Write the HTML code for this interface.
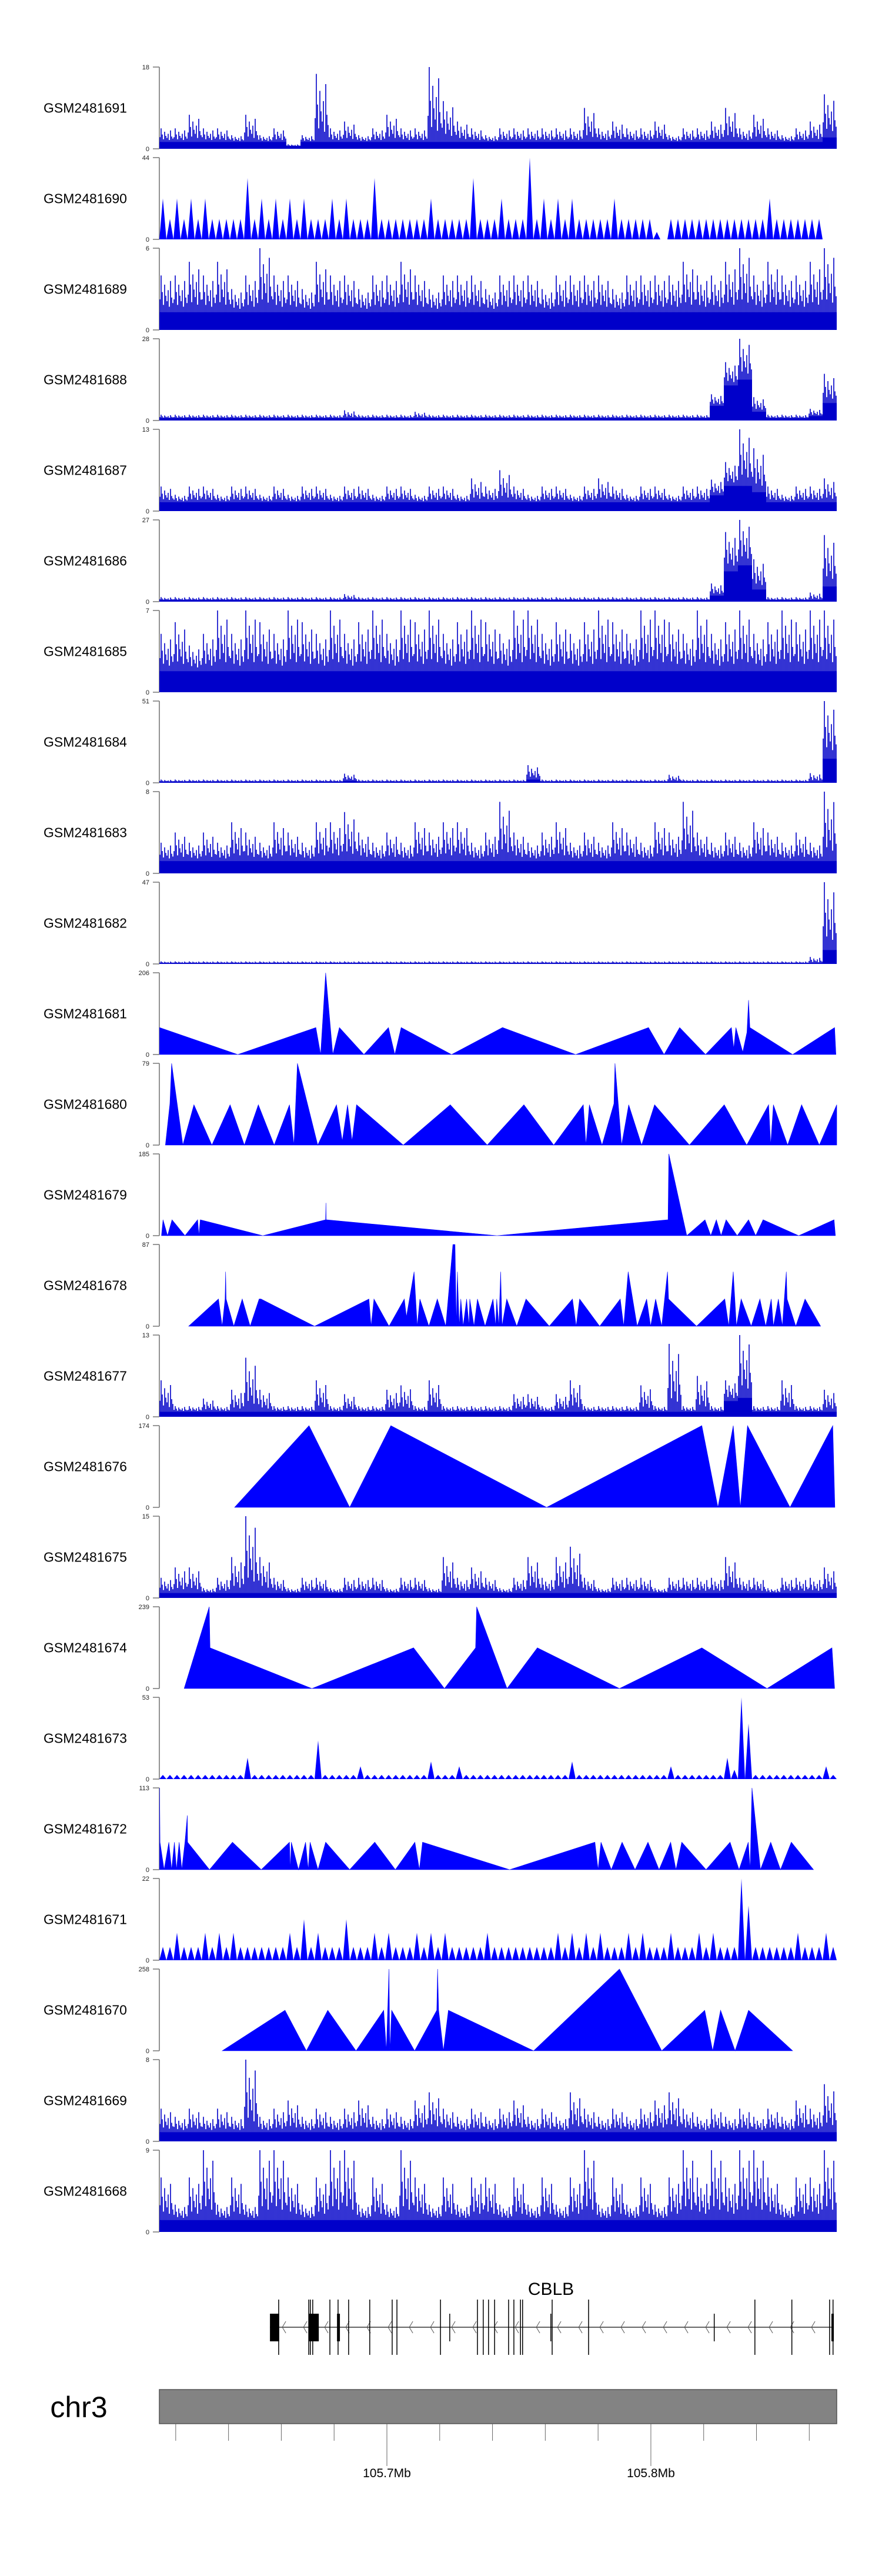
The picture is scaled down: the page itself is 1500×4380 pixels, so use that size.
<!DOCTYPE html>
<html><head><meta charset="utf-8"><title>CBLB coverage tracks</title>
<style>
html,body{margin:0;padding:0;background:#fff;}
svg{display:block;font-family:"Liberation Sans",Arial,sans-serif;}
</style></head>
<body>
<svg id="chart" xmlns="http://www.w3.org/2000/svg" width="1500" height="4380" viewBox="0 0 1500 4380"></svg>
<script>
// ---------- data ----------
const sampleNames=["GSM2481691","GSM2481690","GSM2481689","GSM2481688","GSM2481687","GSM2481686","GSM2481685","GSM2481684","GSM2481683","GSM2481682","GSM2481681","GSM2481680","GSM2481679","GSM2481678","GSM2481677","GSM2481676","GSM2481675","GSM2481674","GSM2481673","GSM2481672","GSM2481671","GSM2481670","GSM2481669","GSM2481668"];
const yMax=[18,44,6,28,13,27,7,51,8,47,206,79,185,87,13,174,15,239,53,113,22,258,8,9];
// genomic window, kb offset from chr3:105,600,000
const domainKb=[13.8,270.4];

// dense tracks: 48 bins each (peak value, filled mass value)
const peak1691=[4.5,4.5,7.5,4.5,4.5,3,7.5,3,4.5,1,3,16.5,4.5,6,3,4.5,7.5,4.5,4.5,18,10.5,6,4.5,3,4.5,4.5,4.5,4.5,4.5,4.5,9,4.5,6,4.5,4.5,6,3,4.5,4.5,6,9,4.5,7.5,4.5,3,4.5,6,12];
const fill1691=[1.5,1.5,1.5,1.5,1.5,1.5,1.5,1.5,1.5,0.6,1.5,1.5,1.5,1.5,1.5,1.5,1.5,1.5,1.5,1.5,1.5,1.5,1.5,1.5,1.5,1.5,1.5,1.5,1.5,1.5,1.5,1.5,1.5,1.5,1.5,1.5,1.5,1.5,1.5,1.5,1.5,1.5,1.5,1.5,1.5,1.5,1.5,2.5];
const peak1690=[22,22,22,22,11,11,33,22,22,22,22,11,22,22,11,33,11,11,11,22,11,11,33,11,22,11,44,22,22,22,11,11,22,11,11,4,11,11,11,11,11,11,11,22,11,11,11,0];
const fill1690=[11,11,11,11,11,11,11,11,11,11,11,11,11,11,11,11,11,11,11,11,11,11,11,11,11,11,11,11,11,11,11,11,11,11,11,0,11,11,11,11,11,11,11,11,11,11,11,0];
const peak1689=[4,4,5,4,5,3,4,6,4,4,3,5,4,4,3,4,4,5,4,3,4,4,4,3,4,4,4,3,4,4,4,4,3,4,4,4,4,5,4,4,5,6,4,5,4,4,5,6];
const fill1689=[1.3,1.3,1.3,1.3,1.3,1.3,1.3,1.3,1.3,1.3,1.3,1.3,1.3,1.3,1.3,1.3,1.3,1.3,1.3,1.3,1.3,1.3,1.3,1.3,1.3,1.3,1.3,1.3,1.3,1.3,1.3,1.3,1.3,1.3,1.3,1.3,1.3,1.3,1.3,1.3,1.3,1.3,1.3,1.3,1.3,1.3,1.3,1.3];
const peak1688=[2,2,2,2,2,2,2,2,2,2,2,2,2,3.5,2,2,2,2,3,2,2,2,2,2,2,2,2,2,2,2,2,2,2,2,2,2,2,2,2,9,20,28,8,2,2,2,4,16];
const fill1688=[0.8,0.8,0.8,0.8,0.8,0.8,0.8,0.8,0.8,0.8,0.8,0.8,0.8,0.8,0.8,0.8,0.8,0.8,0.8,0.8,0.8,0.8,0.8,0.8,0.8,0.8,0.8,0.8,0.8,0.8,0.8,0.8,0.8,0.8,0.8,0.8,0.8,0.8,0.8,5,12,14,3,0.8,0.8,0.8,1.5,6];
const peak1687=[3.9,2.6,3.9,3.9,2.6,3.9,3.9,2.6,3.9,2.6,3.9,3.9,2.6,3.9,3.9,2.6,3.9,3.9,2.6,3.9,3.9,2.6,5.2,3.9,6.5,3.9,2.6,3.9,3.9,2.6,3.9,5.2,3.9,2.6,3.9,3.9,2.6,3.9,3.9,5,7.8,13,10,3.9,2.6,3.9,3.9,5.2];
const fill1687=[1.4,1.4,1.4,1.4,1.4,1.4,1.4,1.4,1.4,1.4,1.4,1.4,1.4,1.4,1.4,1.4,1.4,1.4,1.4,1.4,1.4,1.4,1.4,1.4,1.4,1.4,1.4,1.4,1.4,1.4,1.4,1.4,1.4,1.4,1.4,1.4,1.4,1.4,1.4,2.5,4,4,3,1.4,1.4,1.4,1.4,1.4];
const peak1686=[1.5,1.5,1.5,1.5,1.5,1.5,1.5,1.5,1.5,1.5,1.5,1.5,1.5,2.5,1.5,1.5,1.5,1.5,1.5,1.5,1.5,1.5,1.5,1.5,1.5,1.5,1.5,1.5,1.5,1.5,1.5,1.5,1.5,1.5,1.5,1.5,1.5,1.5,1.5,6,23,27,14,1.5,1.5,1.5,3,22];
const fill1686=[0.5,0.5,0.5,0.5,0.5,0.5,0.5,0.5,0.5,0.5,0.5,0.5,0.5,0.5,0.5,0.5,0.5,0.5,0.5,0.5,0.5,0.5,0.5,0.5,0.5,0.5,0.5,0.5,0.5,0.5,0.5,0.5,0.5,0.5,0.5,0.5,0.5,0.5,0.5,2,10,12,4,0.5,0.5,0.5,0.5,5];
const peak1685=[5,6,4,5,7,5,7,6,5,7,6,5,7,5,6,7,5,7,6,7,5,6,7,6,5,7,7,5,6,5,6,7,6,5,7,7,6,5,7,5,6,7,5,6,7,6,7,7];
const fill1685=[1.8,1.8,1.8,1.8,1.8,1.8,1.8,1.8,1.8,1.8,1.8,1.8,1.8,1.8,1.8,1.8,1.8,1.8,1.8,1.8,1.8,1.8,1.8,1.8,1.8,1.8,1.8,1.8,1.8,1.8,1.8,1.8,1.8,1.8,1.8,1.8,1.8,1.8,1.8,1.8,1.8,1.8,1.8,1.8,1.8,1.8,1.8,1.8];
const peak1684=[2,2,2,2,2,2,2,2,2,2,2,2,2,5.7,2,2,2,2,2,2,2,2,2,2,2,2,11,2,2,2,2,2,2,2,2,2,5,2,2,2,2,2,2,2,2,2,6,51];
const fill1684=[0.7,0.7,0.7,0.7,0.7,0.7,0.7,0.7,0.7,0.7,0.7,0.7,0.7,1.2,0.7,0.7,0.7,0.7,0.7,0.7,0.7,0.7,0.7,0.7,0.7,0.7,2,0.7,0.7,0.7,0.7,0.7,0.7,0.7,0.7,0.7,0.7,0.7,0.7,0.7,0.7,0.7,0.7,0.7,0.7,0.7,0.7,15];
const peak1683=[3,4,3,4,3,5,4,3,5,4,3,5,5,6,4,3,4,3,5,4,5,5,3,4,7,4,3,4,5,3,4,3,5,4,3,5,4,7,4,3,4,3,5,4,3,4,3,8];
const fill1683=[1.2,1.2,1.2,1.2,1.2,1.2,1.2,1.2,1.2,1.2,1.2,1.2,1.2,1.2,1.2,1.2,1.2,1.2,1.2,1.2,1.2,1.2,1.2,1.2,1.2,1.2,1.2,1.2,1.2,1.2,1.2,1.2,1.2,1.2,1.2,1.2,1.2,1.2,1.2,1.2,1.2,1.2,1.2,1.2,1.2,1.2,1.2,1.2];
const peak1682=[1.5,1.5,1.5,1.5,1.5,1.5,1.5,1.5,1.5,1.5,1.5,1.5,1.5,1.5,1.5,1.5,1.5,1.5,1.5,1.5,1.5,1.5,1.5,1.5,1.5,1.5,1.5,1.5,1.5,1.5,1.5,1.5,1.5,1.5,1.5,1.5,1.5,1.5,1.5,1.5,1.5,1.5,1.5,1.5,1.5,1.5,4,47];
const fill1682=[0.5,0.5,0.5,0.5,0.5,0.5,0.5,0.5,0.5,0.5,0.5,0.5,0.5,0.5,0.5,0.5,0.5,0.5,0.5,0.5,0.5,0.5,0.5,0.5,0.5,0.5,0.5,0.5,0.5,0.5,0.5,0.5,0.5,0.5,0.5,0.5,0.5,0.5,0.5,0.5,0.5,0.5,0.5,0.5,0.5,0.5,0.5,8];
const peak1677=[5.8,1.7,1.7,2.9,1.7,4.3,9.4,4.3,1.7,1.7,1.7,5.8,1.7,3.6,1.7,1.7,4.3,5,1.7,5.8,1.7,1.7,1.7,1.7,1.7,3.6,3.6,1.7,3.6,5.8,1.7,1.7,1.7,1.7,5,1.7,11.6,1.7,6.5,1.7,5.8,13,1.7,1.7,5.8,1.7,1.7,4.3];
const fill1677=[0.8,0.8,0.8,0.8,0.8,0.8,0.8,0.8,0.8,0.8,0.8,0.8,0.8,0.8,0.8,0.8,0.8,0.8,0.8,0.8,0.8,0.8,0.8,0.8,0.8,0.8,0.8,0.8,0.8,0.8,0.8,0.8,0.8,0.8,0.8,0.8,0.8,0.8,0.8,0.8,2.5,3,0.8,0.8,0.8,0.8,0.8,0.8];
const peak1675=[3.7,5.6,5.6,1.8,3.7,7.5,15,7.5,3.7,1.8,3.7,3.7,1.8,3.7,3.7,3.7,1.8,3.7,3.7,1.8,7.5,3.7,5.6,3.7,1.8,3.7,7.5,3.7,7.5,9.4,3.7,1.8,3.7,3.7,3.7,1.8,3.7,3.7,3.7,3.7,7.5,3.7,3.7,1.8,3.7,3.7,3.7,5.6];
const fill1675=[0.9,0.9,0.9,0.9,0.9,0.9,0.9,0.9,0.9,0.9,0.9,0.9,0.9,0.9,0.9,0.9,0.9,0.9,0.9,0.9,0.9,0.9,0.9,0.9,0.9,0.9,0.9,0.9,0.9,0.9,0.9,0.9,0.9,0.9,0.9,0.9,0.9,0.9,0.9,0.9,0.9,0.9,0.9,0.9,0.9,0.9,0.9,0.9];
const peak1673=[2.7,2.7,2.7,2.7,2.7,2.7,13.8,2.7,2.7,2.7,2.7,25,2.7,2.7,8.3,2.7,2.7,2.7,2.7,11.4,2.7,8.3,2.7,2.7,2.7,2.7,2.7,2.7,2.7,11.4,2.7,2.7,2.7,2.7,2.7,2.7,8.3,2.7,2.7,2.7,13.8,53,2.7,2.7,2.7,2.7,2.7,8.3];
const fill1673=[2.7,2.7,2.7,2.7,2.7,2.7,2.7,2.7,2.7,2.7,2.7,2.7,2.7,2.7,2.7,2.7,2.7,2.7,2.7,2.7,2.7,2.7,2.7,2.7,2.7,2.7,2.7,2.7,2.7,2.7,2.7,2.7,2.7,2.7,2.7,2.7,2.7,2.7,2.7,2.7,6,36,2.7,2.7,2.7,2.7,2.7,2.7];
const peak1671=[3.6,7.4,3.6,7.4,7.4,7.4,3.6,3.6,3.6,7.4,11,7.4,3.6,11,3.6,7.4,7.4,3.6,7.4,7.4,7.4,3.6,3.6,7.4,3.6,3.6,3.6,3.6,7.4,7.4,7.4,7.4,3.6,7.4,7.4,3.6,7.4,3.6,7.4,7.4,3.6,22,3.6,3.6,3.6,7.4,3.6,7.4];
const fill1671=[3.6,3.6,3.6,3.6,3.6,3.6,3.6,3.6,3.6,3.6,3.6,3.6,3.6,3.6,3.6,3.6,3.6,3.6,3.6,3.6,3.6,3.6,3.6,3.6,3.6,3.6,3.6,3.6,3.6,3.6,3.6,3.6,3.6,3.6,3.6,3.6,3.6,3.6,3.6,3.6,3.6,14.7,3.6,3.6,3.6,3.6,3.6,3.6];
const peak1669=[3.2,2.4,3.2,2.4,3.2,2.4,8,2.4,3.2,4,2.4,3.2,2.4,3.2,4,2.4,3.2,2.4,4,4.8,3.2,2.4,3.2,2.4,3.2,4,2.4,3.2,2.4,4.8,3.2,2.4,3.2,2.4,3.2,4,4.8,3.2,2.4,3.2,2.4,3.2,2.4,3.2,2.4,4,3.2,5.6];
const fill1669=[0.9,0.9,0.9,0.9,0.9,0.9,0.9,0.9,0.9,0.9,0.9,0.9,0.9,0.9,0.9,0.9,0.9,0.9,0.9,0.9,0.9,0.9,0.9,0.9,0.9,0.9,0.9,0.9,0.9,0.9,0.9,0.9,0.9,0.9,0.9,0.9,0.9,0.9,0.9,0.9,0.9,0.9,0.9,0.9,0.9,0.9,0.9,0.9];
const peak1668=[6,3,6,9,3,6,3,9,9,6,3,6,9,9,3,6,3,9,6,3,6,3,6,6,3,6,3,6,3,6,9,3,6,3,6,3,6,9,6,9,6,9,9,6,3,6,6,9];
const fill1668=[1.3,1.3,1.3,1.3,1.3,1.3,1.3,1.3,1.3,1.3,1.3,1.3,1.3,1.3,1.3,1.3,1.3,1.3,1.3,1.3,1.3,1.3,1.3,1.3,1.3,1.3,1.3,1.3,1.3,1.3,1.3,1.3,1.3,1.3,1.3,1.3,1.3,1.3,1.3,1.3,1.3,1.3,1.3,1.3,1.3,1.3,1.3,1.3];

// sparse polygon tracks: positions (kb offset) and values
const pos1681=[13.9,43.5,73.1,74.9,76.8,79.5,82.0,91.3,100.6,103.0,105.4,124.5,143.8,171.5,199.1,205.0,210.9,220.7,230.5,231.4,232.2,234.8,236.4,237.0,237.5,253.7,269.6,270.1];
const val1681=[68,0,68,0,206,0,68,0,68,0,68,0,68,0,68,0,68,0,68,15,68,6,56,137,68,0,68,0];
const pos1680=[16.1,17.8,18.45,22.7,26.9,33.7,40.6,46.0,51.3,57.3,63.1,64.8,66.1,73.8,80.9,83.1,85.1,86.8,88.5,106.2,124.0,138.0,151.9,163.2,174.4,175.4,176.7,181.5,186.0,186.4,188.9,191.6,196.5,201.4,214.6,227.8,236.3,244.6,245.4,246.4,251.8,257.1,263.8,270.4];
const val1680=[0,40,79,0,39,0,39,0,39,0,39,0,79,0,39,4,39,4,39,0,39,0,39,0,39,0,39,0,40,79,0,39,0,39,0,39,0,39,0,39,0,39,0,39];
const pos1679=[14.6,15.2,16.9,18.6,23.5,28.3,28.8,29.3,53.0,76.8,76.9,77.0,141.7,206.5,206.8,213.6,220.5,222.7,224.8,226.6,228.5,232.7,237.0,239.7,242.5,256.0,269.4,269.9];
const val1679=[0,36,0,36,0,36,0,36,0,36,74,36,0,36,185,0,36,0,36,0,36,0,36,0,36,0,36,0];
const pos1678=[24.9,36.2,37.6,38.7,38.9,39.1,42.0,45.2,48.2,51.6,52.3,72.6,93.2,94.0,95.1,100.8,106.6,107.4,110.3,111.5,112.5,115.9,119.1,122.3,125.0,125.8,126.3,126.7,127.4,128.0,128.9,130.2,131.1,131.4,133.0,134.3,137.2,140.2,141.2,141.6,142.4,143.1,143.6,145.4,149.2,152.7,161.5,170.3,171.7,173.0,180.6,188.4,189.7,191.4,194.8,198.4,199.9,201.8,204.1,206.3,206.7,217.3,228.0,229.5,231.2,232.4,234.2,238.0,241.3,243.5,245.6,246.4,248.3,249.8,251.3,251.6,254.9,258.4,264.3];
const val1678=[0,29,0,29,58,29,0,29,0,29,29,0,29,0,29,0,29,10,58,0,29,0,29,0,87,87,0,58,0,29,0,29,0,29,0,29,0,29,0,29,0,58,0,29,0,29,0,29,0,29,0,29,0,58,0,29,0,29,0,58,29,0,29,0,58,0,29,0,29,0,29,0,29,0,58,29,0,29,0];
const pos1676=[42.3,70.5,85.9,101.5,160.5,219.3,225.4,231.2,233.9,236.6,252.7,268.9,269.7];
const val1676=[0,174,0,174,0,174,0,174,0,174,0,174,0];
const pos1674=[23.2,32.7,33.0,71.6,110.1,121.8,133.6,134.0,145.5,157.0,188.1,219.3,244.0,268.6,269.6];
const val1674=[0,239,119,0,119,0,119,239,0,119,0,119,0,119,0];
const pos1672=[13.9,14.05,15.6,17.4,18.45,19.5,20.3,21.3,22.3,23.5,24.4,24.5,32.8,41.5,52.4,63.1,63.4,63.8,66.5,69.2,70.2,70.9,73.9,76.8,85.9,95.4,103.2,110.6,112.3,113.5,146.5,178.8,180.0,181.1,185.0,189.1,194.0,198.9,203.1,207.5,209.5,211.7,220.9,230.0,233.4,236.9,237.6,238.3,241.5,245.4,249.1,253.2,261.6];
const val1672=[113,38,0,38,0,38,0,38,0,38,75,38,0,38,0,38,0,38,0,38,0,38,0,38,0,38,0,38,0,38,0,38,0,38,0,38,0,38,0,38,0,38,0,38,0,38,0,113,0,38,0,38,0];
const pos1670=[37.6,61.4,69.5,77.6,88.3,98.8,99.8,100.8,101.1,101.8,110.5,118.9,119.2,119.6,121.4,123.3,155.6,188.1,204.1,220.4,223.4,226.4,231.9,237.0,253.7];
const val1670=[0,128,0,128,0,128,0,258,0,128,0,128,258,128,0,128,0,258,0,128,0,128,0,128,0];

// gene model (CBLB, minus strand), kb offsets
const exonLines=[59.0,70.4,71.0,71.9,78.4,81.5,85.5,93.5,102.0,103.8,120.3,134.3,136.5,138.5,140.8,146.1,148.1,150.6,151.4,162.6,176.4,239.4,253.4,267.7,269.0];
const exonShort=[123.8,162.1,224.0];
const exonBoxStart=[55.7,70.4,81.1,268.4];
const exonBoxEnd=[59.2,74.2,82.2,269.3];
const geneSpan=[55.7,269.3];
// axis
const axisTicks=[20,40,60,80,100,120,140,160,180,200,220,240,260];
const axisLabels=["","","","","105.7Mb","","","","","105.8Mb","","",""];

// ---------- rendering ----------
const NS="http://www.w3.org/2000/svg";
const svg=document.getElementById("chart");
const X0=271,X1=1423,TOP0=114,PITCH=154,TH=139;
function xs(kb){return X0+(kb-domainKb[0])/(domainKb[1]-domainKb[0])*(X1-X0);}
function mk(tag,attrs,parent){const e=document.createElementNS(NS,tag);for(const k in attrs)e.setAttribute(k,attrs[k]);(parent||svg).appendChild(e);return e;}

const denseSeries={GSM2481691:[peak1691,fill1691,"spike"],GSM2481690:[peak1690,fill1690,"tri"],GSM2481689:[peak1689,fill1689,"spike"],GSM2481688:[peak1688,fill1688,"spike"],GSM2481687:[peak1687,fill1687,"spike"],GSM2481686:[peak1686,fill1686,"spike"],GSM2481685:[peak1685,fill1685,"spike"],GSM2481684:[peak1684,fill1684,"spike"],GSM2481683:[peak1683,fill1683,"spike"],GSM2481682:[peak1682,fill1682,"spike"],GSM2481677:[peak1677,fill1677,"spike"],GSM2481675:[peak1675,fill1675,"spike"],GSM2481673:[peak1673,fill1673,"tri"],GSM2481671:[peak1671,fill1671,"tri"],GSM2481669:[peak1669,fill1669,"spike"],GSM2481668:[peak1668,fill1668,"spike"]};
const sparseSeries={GSM2481681:[pos1681,val1681],GSM2481680:[pos1680,val1680],GSM2481679:[pos1679,val1679],GSM2481678:[pos1678,val1678],GSM2481676:[pos1676,val1676],GSM2481674:[pos1674,val1674],GSM2481672:[pos1672,val1672],GSM2481670:[pos1670,val1670]};
const pat=[0.35,1,0.55,0.2,0.75,0.45,0.3,0.6,0.15,0.85,0.4,0.25];

sampleNames.forEach((name,t)=>{
  const top=TOP0+t*PITCH, bot=top+TH, mx=yMax[t];
  const ys=v=>bot-Math.min(v,mx)/mx*TH;
  const g=mk("g",{});
  
  
  const lab=mk("text",{x:145,y:top+TH/2+8,"text-anchor":"middle","font-size":"23",fill:"#000"},g);
  lab.textContent=name;
  
  
  const ax=mk("path",{d:`M${X0} ${top}V${bot}M260 ${top}H${X0}M260 ${bot}H${X0}`,stroke:"#777","stroke-width":"1.6",fill:"none"},g);
  
  
  const tMax=mk("text",{x:254,y:top+4,"text-anchor":"end","font-size":"11",fill:"#222"},g);
  tMax.textContent=String(mx);
  
  
  const tMin=mk("text",{x:254,y:bot+4,"text-anchor":"end","font-size":"11",fill:"#222"},g);
  tMin.textContent="0";
  
  

  if(denseSeries[name]){
    const [pk,fl,style]=denseSeries[name];
    const n=pk.length, w=(X1-X0)/n;
    let d="", lines="";
    for(let i=0;i<n;i++){
      const x0=X0+i*w;
      if(style==="tri"){
        d+=`M${x0} ${bot}L${x0+w*0.25} ${ys(pk[i])}L${x0+w*0.5} ${bot}Z`;
        d+=`M${x0+w*0.5} ${bot}L${x0+w*0.75} ${ys(fl[i])}L${x0+w} ${bot}Z`;
      }else{
        d+=`M${x0} ${bot}V${ys(fl[i])}H${x0+w}V${bot}Z`;
        for(let j=0;j<pat.length;j++){
          const v=fl[i]+(pk[i]-fl[i])*pat[j];
          const lx=x0+1+j*w/pat.length;
          lines+=`M${lx} ${bot}V${ys(v)}`;
        }
      }
    }
    const area=mk("path",{d:d,fill:style==="tri"?"#0000ff":"#0000d0"},g);
    
    
    if(lines){
      const sp=mk("path",{d:lines,stroke:"#0000c8","stroke-width":"1.6",fill:"none"},g);
      
      
    }
  }else if(sparseSeries[name]){
    const [ps,vs]=sparseSeries[name];
    let d=`M${xs(ps[0])} ${bot}`;
    for(let i=0;i<ps.length;i++)d+=`L${xs(ps[i])} ${ys(vs[i])}`;
    d+=`L${xs(ps[ps.length-1])} ${bot}Z`;
    const poly=mk("path",{d:d,fill:"#0000ff",stroke:"#0000ff","stroke-width":"0.6"},g);
    
    
  }
});

// gene track
const gg=mk("g",{});


const gname=mk("text",{x:937,y:3902,"text-anchor":"middle","font-size":"30",fill:"#000"},gg);
gname.textContent="CBLB";


const GY=3957;
const gl=mk("line",{x1:xs(geneSpan[0]),x2:xs(geneSpan[1]),y1:GY,y2:GY,stroke:"#333","stroke-width":"1.5"},gg);


let chev="";
for(let x=xs(geneSpan[0])+22;x<xs(geneSpan[1])-8;x+=36){chev+=`M${x+5} ${GY-10}L${x-1} ${GY}L${x+5} ${GY+10}`;}
const ch=mk("path",{d:chev,stroke:"#555","stroke-width":"1",fill:"none"},gg);


let ed="";
exonLines.forEach(k=>{ed+=`M${xs(k)} 3910V4004`;});
exonShort.forEach(k=>{ed+=`M${xs(k)} 3934V3981`;});
const ex=mk("path",{d:ed,stroke:"#000","stroke-width":"1.5",fill:"none"},gg);


exonBoxStart.forEach((s,i)=>{
  const r=mk("rect",{x:xs(s),y:3934,width:Math.max(2,xs(exonBoxEnd[i])-xs(s)),height:47,fill:"#000"},gg);
  
  
});

// chromosome axis
const ag=mk("g",{});


const chr=mk("text",{x:134,y:4110,"text-anchor":"middle","font-size":"50",fill:"#000"},ag);
chr.textContent="chr3";


const bar=mk("rect",{x:X0,y:4063,width:X1-X0,height:58,fill:"#838383",stroke:"#555","stroke-width":"1.5"},ag);


axisTicks.forEach((k,i)=>{
  const x=xs(k), major=axisLabels[i]!=="";
  const tk=mk("line",{x1:x,x2:x,y1:4121,y2:major?4193:4150,stroke:"#666","stroke-width":"1"},ag);
  
  
  if(major){
    const tl=mk("text",{x:x,y:4212,"text-anchor":"middle","font-size":"21",fill:"#000"},ag);
    tl.textContent=axisLabels[i];
    
    
  }
});
</script>
</body></html>
